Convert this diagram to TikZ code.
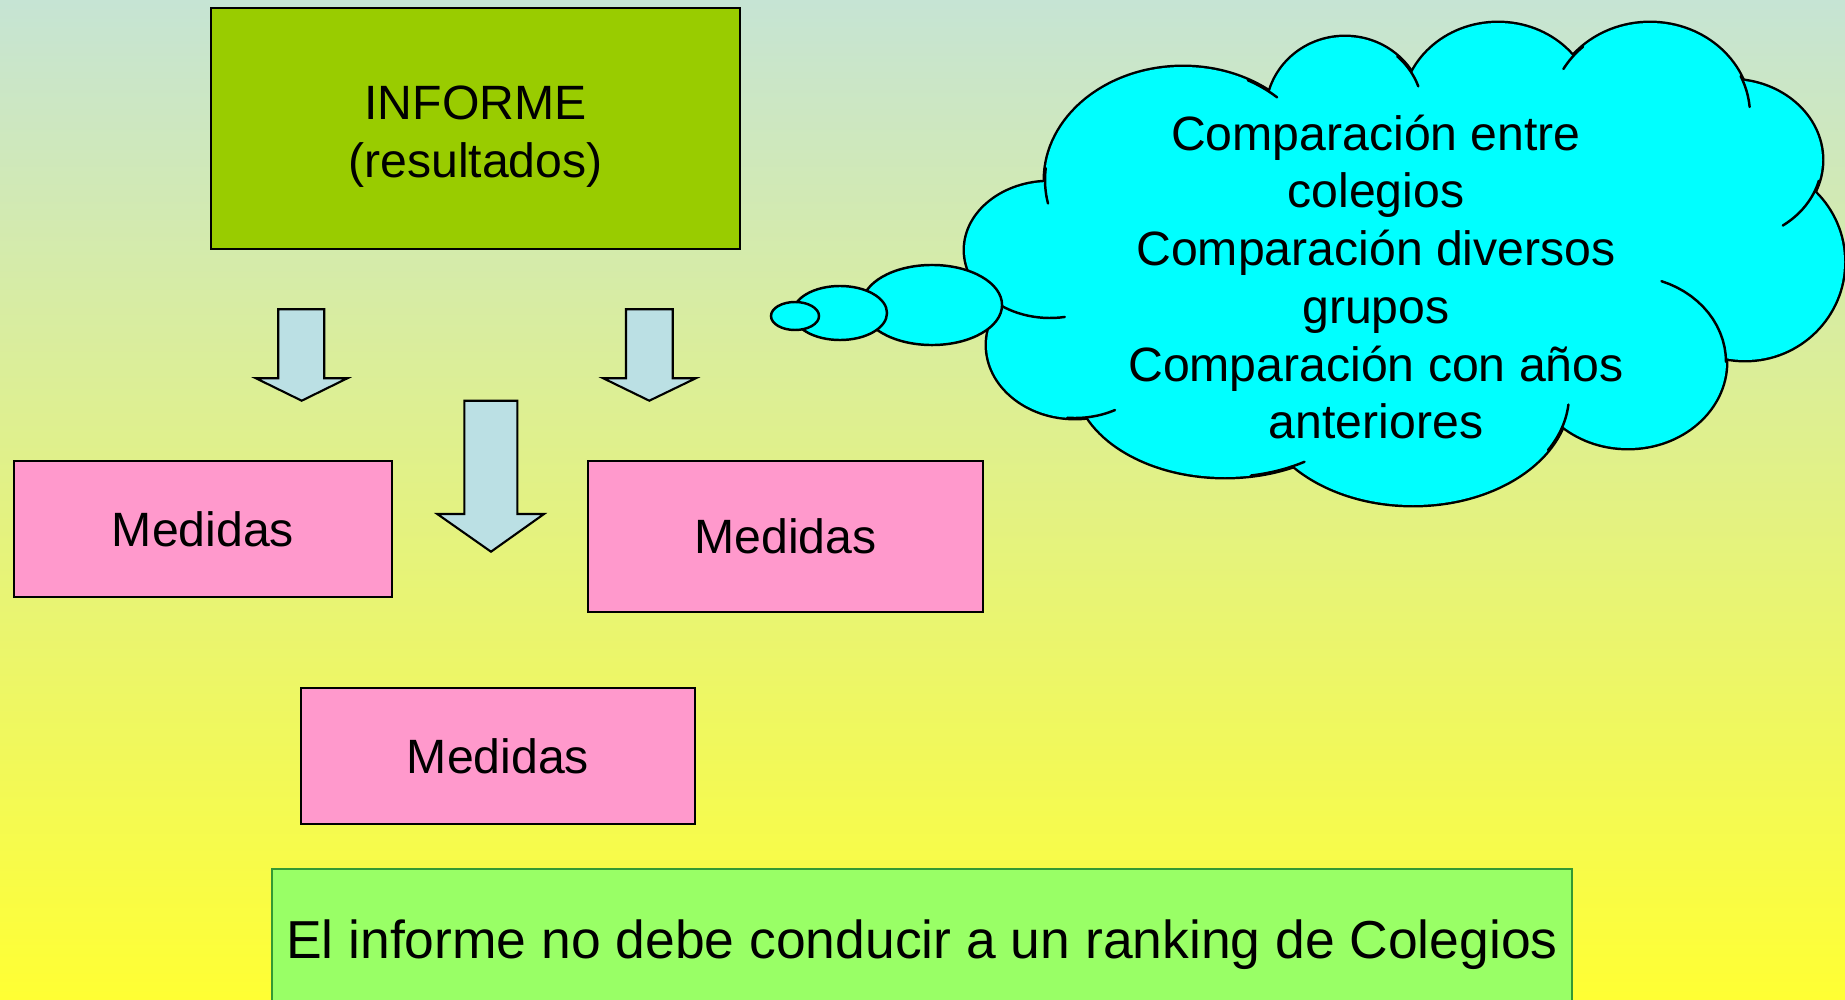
\documentclass[tikz,border=0pt]{standalone}
\usepackage{fontspec}
\setmainfont{Liberation Sans}
\definecolor{bgtop}{RGB}{198,228,212}
\definecolor{bgbot}{RGB}{255,255,51}
\definecolor{informec}{RGB}{153,204,0}
\definecolor{pinkc}{RGB}{255,153,204}
\definecolor{arrowc}{RGB}{187,224,228}
\definecolor{notac}{RGB}{153,255,102}
\definecolor{notaborder}{RGB}{51,153,51}
\definecolor{cloudc}{RGB}{0,255,255}
\newcommand\dfont{\fontsize{13.7pt}{16.4pt}\selectfont}
\newcommand\bigdfont{\fontsize{15.2pt}{18pt}\selectfont}
\tikzset{
  box/.style={draw=black, line width=0.6pt, inner sep=0pt, align=center, font=\dfont, text=black},
  pinkbox/.style={box, fill=pinkc},
  blockarrow/.style={draw=black, line width=0.6pt, fill=arrowc, line join=miter},
  puffline/.style={draw=black, line width=1.4pt},
  hookline/.style={draw=black, line width=0.7pt, line cap=round},
  bubble/.style={draw=black, line width=0.7pt, fill=cloudc},
}
\begin{document}
\begin{tikzpicture}[x=0.01cm,y=-0.01cm]
\useasboundingbox (0,0) rectangle (1845,1000);
\clip (0,0) rectangle (1845,1000);
\shade[top color=bgtop, bottom color=bgbot] (0,0) rectangle (1845,1000);

% boxes
\node[box, fill=informec, minimum width=5.29cm, minimum height=2.41cm] (informe) at (475.5,128.5) {\rule{0pt}{0.50cm}INFORME\\(resultados)};
\node[pinkbox, minimum width=3.78cm, minimum height=1.36cm] (med1) at (203,529) {Medidas};
\node[pinkbox, minimum width=3.95cm, minimum height=1.51cm] (med2) at (785.5,536.5) {Medidas};
\node[pinkbox, minimum width=3.94cm, minimum height=1.36cm] (med3) at (498,756) {Medidas};
\node[box, draw=notaborder, fill=notac, font=\bigdfont, minimum width=13cm, minimum height=1.51cm] (nota) at (922,944.5) {El informe no debe conducir a un ranking de Colegios};

% block arrows
\draw[blockarrow] (278.3,309.3) -- (324.3,309.3) -- (324.3,378.3) -- (347.3,378.3) -- (301.7,400.7) -- (256,378.3) -- (278.3,378.3) -- cycle;
\draw[blockarrow] (626,309.3) -- (672.7,309.3) -- (672.7,378.3) -- (695.7,378.3) -- (649.3,400.7) -- (603.3,378.3) -- (626,378.3) -- cycle;
\draw[blockarrow] (464.3,400.7) -- (517.3,400.7) -- (517.3,514) -- (544,514) -- (491,551.7) -- (437.3,514) -- (464.3,514) -- cycle;

% cloud
\foreach \cx/\cy/\rx/\ry in {1183/180/138/113, 1345/112/78/75, 1498/110/95/87, 1650/115/100/92, 1730/160/92/80, 1745/262/99/98, 1628/362/98/86, 1413/395/156/110, 1225/377/150/100, 1075/345/88/73, 1050/250/85/68}
  {\draw[puffline] (\cx,\cy) ellipse [x radius=\rx*0.01cm, y radius=\ry*0.01cm];}
\foreach \cx/\cy/\rx/\ry in {1183/180/138/113, 1345/112/78/75, 1498/110/95/87, 1650/115/100/92, 1730/160/92/80, 1745/262/99/98, 1628/362/98/86, 1413/395/156/110, 1225/377/150/100, 1075/345/88/73, 1050/250/85/68}
  {\fill[cloudc] (\cx,\cy) ellipse [x radius=\rx*0.01cm, y radius=\ry*0.01cm];}
\fill[cloudc] (1050,200) -- (1277,97) -- (1418,86) -- (1563,69) -- (1749,107) -- (1783,225) -- (1715,350) -- (1565,405) -- (1300,455) -- (1110,405) -- (1063,312) -- cycle;
\foreach \cx/\cy/\rx/\ry/\a/\b in {1183/180/138/113/-62/-47, 1183/180/138/113/168/186, 1345/112/78/75/-48/-20, 1650/115/100/92/210/228, 1650/115/100/92/-25/-5, 1730/160/92/80/15/55, 1628/362/98/86/-70/0, 1413/395/156/110/5/30, 1225/377/150/100/58/80, 1075/345/88/73/63/95, 1050/250/85/68/80/130}
  {\draw[hookline] plot[domain=\a:\b, samples=15, variable=\t] ({\cx+\rx*cos(\t)},{\cy+\ry*sin(\t)});}

% thought bubbles
\draw[bubble] (932,305) ellipse [x radius=0.70cm, y radius=0.40cm];
\draw[bubble] (840,313) ellipse [x radius=0.47cm, y radius=0.27cm];
\draw[bubble] (795,316) ellipse [x radius=0.24cm, y radius=0.14cm];

\node[font=\dfont, align=center, inner sep=0pt, text=black] (cloudtext) at (1376,277) {Comparación entre\\colegios\\Comparación diversos\\grupos\\Comparación con años\\anteriores};
\end{tikzpicture}
\end{document}
